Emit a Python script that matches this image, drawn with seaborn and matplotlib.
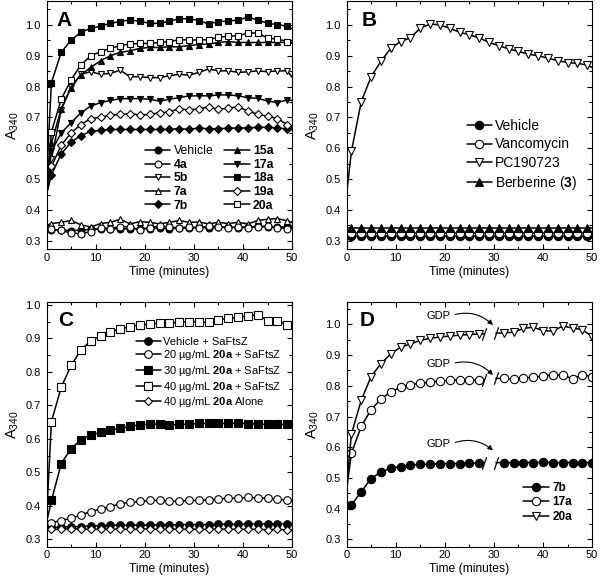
import seaborn as sns
import pandas as pd
import matplotlib
matplotlib.use("Agg")
import matplotlib.pyplot as plt
from matplotlib.ticker import MultipleLocator, FormatStrFormatter

# time axis: start, readings every 2 min, end
t_main = [0, 1, 3, 5, 7, 9, 11, 13, 15, 17, 19, 21, 23, 25, 27, 29, 31, 33, 35, 37, 39, 41, 43, 45, 47, 49, 50]

# panel A
a_vehicle = [0.335, 0.336, 0.335, 0.333, 0.335, 0.337, 0.339, 0.338, 0.340, 0.338, 0.340, 0.340, 0.342, 0.340,
             0.341, 0.342, 0.344, 0.342, 0.345, 0.344, 0.343, 0.345, 0.347, 0.345, 0.345, 0.345, 0.344]
a_4a = [0.340, 0.338, 0.334, 0.325, 0.323, 0.330, 0.342, 0.340, 0.346, 0.345, 0.336, 0.343, 0.348, 0.345,
        0.342, 0.346, 0.341, 0.348, 0.346, 0.343, 0.345, 0.343, 0.346, 0.348, 0.343, 0.340, 0.340]
a_5b = [0.46, 0.565, 0.725, 0.800, 0.840, 0.848, 0.840, 0.843, 0.853, 0.832, 0.832, 0.829, 0.829, 0.835,
        0.840, 0.837, 0.846, 0.857, 0.851, 0.851, 0.846, 0.848, 0.851, 0.848, 0.851, 0.851, 0.830]
a_7a = [0.350, 0.356, 0.360, 0.366, 0.352, 0.345, 0.356, 0.360, 0.370, 0.355, 0.362, 0.360, 0.355, 0.360,
        0.366, 0.360, 0.361, 0.355, 0.360, 0.356, 0.360, 0.355, 0.366, 0.370, 0.372, 0.365, 0.360]
a_7b = [0.45, 0.514, 0.582, 0.620, 0.641, 0.655, 0.658, 0.661, 0.661, 0.661, 0.661, 0.661, 0.661, 0.661,
        0.664, 0.661, 0.666, 0.663, 0.664, 0.665, 0.666, 0.666, 0.668, 0.668, 0.666, 0.663, 0.661]
a_15a = [0.47, 0.617, 0.728, 0.797, 0.838, 0.862, 0.884, 0.900, 0.911, 0.916, 0.924, 0.927, 0.927, 0.929,
         0.929, 0.933, 0.936, 0.938, 0.943, 0.946, 0.943, 0.943, 0.943, 0.943, 0.943, 0.943, 0.941]
a_17a = [0.46, 0.590, 0.650, 0.683, 0.715, 0.737, 0.748, 0.755, 0.761, 0.761, 0.761, 0.759, 0.753, 0.759,
         0.764, 0.770, 0.770, 0.770, 0.773, 0.773, 0.770, 0.764, 0.762, 0.753, 0.748, 0.757, 0.755]
a_18a = [0.50, 0.813, 0.911, 0.951, 0.976, 0.989, 0.996, 1.005, 1.011, 1.016, 1.012, 1.005, 1.005, 1.012,
         1.020, 1.020, 1.014, 1.003, 1.011, 1.012, 1.016, 1.025, 1.016, 1.005, 1.001, 0.996, 0.987]
a_19a = [0.45, 0.541, 0.610, 0.650, 0.677, 0.696, 0.701, 0.707, 0.710, 0.712, 0.708, 0.710, 0.715, 0.718,
         0.728, 0.724, 0.728, 0.734, 0.726, 0.731, 0.734, 0.721, 0.710, 0.704, 0.696, 0.677, 0.666]
a_20a = [0.48, 0.653, 0.759, 0.822, 0.870, 0.900, 0.913, 0.924, 0.933, 0.938, 0.940, 0.940, 0.943, 0.946,
         0.952, 0.951, 0.951, 0.952, 0.960, 0.963, 0.965, 0.973, 0.974, 0.957, 0.954, 0.946, 0.943]

# panel B
b_vehicle = [0.316, 0.316, 0.316, 0.316, 0.316, 0.316, 0.316, 0.316, 0.316, 0.316, 0.316, 0.316, 0.316, 0.316,
             0.316, 0.316, 0.316, 0.316, 0.316, 0.316, 0.316, 0.316, 0.316, 0.316, 0.316, 0.316, 0.316]
b_vanco = [0.325, 0.325, 0.325, 0.325, 0.325, 0.325, 0.325, 0.325, 0.325, 0.325, 0.325, 0.325, 0.325, 0.325,
           0.325, 0.325, 0.325, 0.325, 0.325, 0.325, 0.325, 0.325, 0.325, 0.325, 0.325, 0.325, 0.325]
b_pc = [0.45, 0.590, 0.751, 0.832, 0.882, 0.924, 0.946, 0.958, 0.989, 1.003, 1.000, 0.989, 0.976, 0.968,
        0.958, 0.943, 0.933, 0.922, 0.914, 0.905, 0.900, 0.892, 0.884, 0.878, 0.875, 0.870, 0.862]
b_berb = [0.341, 0.341, 0.341, 0.341, 0.341, 0.341, 0.341, 0.341, 0.341, 0.341, 0.341, 0.341, 0.341, 0.341,
          0.341, 0.341, 0.341, 0.341, 0.341, 0.341, 0.341, 0.341, 0.341, 0.341, 0.341, 0.341, 0.341]

# panel C
c_vehicle = [0.335, 0.336, 0.336, 0.338, 0.338, 0.340, 0.340, 0.342, 0.342, 0.342, 0.342, 0.343, 0.343, 0.343,
             0.344, 0.344, 0.344, 0.344, 0.345, 0.345, 0.345, 0.345, 0.346, 0.346, 0.346, 0.346, 0.345]
c_20 = [0.345, 0.350, 0.356, 0.363, 0.373, 0.383, 0.390, 0.398, 0.406, 0.410, 0.413, 0.416, 0.416, 0.413,
        0.414, 0.416, 0.416, 0.418, 0.420, 0.423, 0.423, 0.425, 0.423, 0.423, 0.420, 0.416, 0.413]
c_30 = [0.35, 0.416, 0.526, 0.571, 0.597, 0.612, 0.619, 0.626, 0.631, 0.637, 0.642, 0.644, 0.644, 0.641,
        0.643, 0.644, 0.646, 0.646, 0.646, 0.646, 0.647, 0.645, 0.644, 0.643, 0.643, 0.644, 0.644]
c_40 = [0.36, 0.651, 0.754, 0.819, 0.865, 0.892, 0.907, 0.920, 0.928, 0.935, 0.940, 0.942, 0.945, 0.945,
        0.948, 0.950, 0.948, 0.948, 0.955, 0.960, 0.962, 0.967, 0.970, 0.953, 0.953, 0.940, 0.935]
c_alone = [0.330, 0.330, 0.330, 0.332, 0.330, 0.330, 0.331, 0.330, 0.331, 0.330, 0.331, 0.331, 0.330, 0.331,
           0.330, 0.331, 0.330, 0.330, 0.331, 0.330, 0.330, 0.330, 0.330, 0.329, 0.330, 0.328, 0.328]

# panel D: before and after GDP addition
d_t1 = [0, 1, 3, 5, 7, 9, 11, 13, 15, 17, 19, 21, 23, 25, 27]
d_t2 = [32, 34, 36, 38, 40, 42, 44, 46, 48, 50]
d_7b_1 = [0.40, 0.412, 0.455, 0.498, 0.519, 0.532, 0.537, 0.541, 0.544, 0.545, 0.546, 0.547, 0.547, 0.548, 0.548]
d_7b_2 = [0.550, 0.550, 0.550, 0.550, 0.551, 0.550, 0.550, 0.550, 0.550, 0.550]
d_17a_1 = [0.46, 0.580, 0.668, 0.722, 0.757, 0.780, 0.795, 0.803, 0.809, 0.811, 0.816, 0.818, 0.819, 0.819, 0.819]
d_17a_2 = [0.824, 0.822, 0.826, 0.828, 0.832, 0.836, 0.835, 0.823, 0.836, 0.830]
d_20a_1 = [0.47, 0.643, 0.753, 0.830, 0.872, 0.904, 0.926, 0.936, 0.948, 0.955, 0.959, 0.962, 0.965, 0.967, 0.969]
d_20a_2 = [0.972, 0.975, 0.987, 0.991, 0.980, 0.978, 0.995, 0.988, 0.983, 0.960]
BREAK_L, BREAK_R = 28.0, 30.4

sns.set_theme(style="ticks")
plt.rcParams['font.family'] = ['Liberation Sans', 'DejaVu Sans']
plt.rcParams.update({
    'mathtext.fontset': 'custom',
    'mathtext.rm': 'Liberation Sans',
    'mathtext.bf': 'Liberation Sans:bold',
    'mathtext.it': 'Liberation Sans:italic',
    'axes.linewidth': 0.8,
    'axes.edgecolor': 'black',
    'xtick.color': 'black',
    'ytick.color': 'black',
    'text.color': 'black',
    'axes.labelcolor': 'black',
})

fig = plt.figure(figsize=(6, 5.81), dpi=100)
axA = fig.add_axes([0.0775, 0.5706, 0.4095, 0.4269])
axB = fig.add_axes([0.5775, 0.5706, 0.4095, 0.4269])
axC = fig.add_axes([0.0775, 0.0590, 0.4095, 0.4205])
axD = fig.add_axes([0.5775, 0.0590, 0.4095, 0.4212])


def draw(ax, t, y, marker, filled, label, ms, every=None):
    if every is None:
        every = slice(1, len(t) - 1)
    sns.lineplot(x=t, y=y, ax=ax, color='black', lw=1.1, marker=marker, markersize=ms,
                 markerfacecolor='black' if filled else 'white', markeredgecolor='black',
                 markeredgewidth=0.8, markevery=every, label=label, sort=False, estimator=None)


# A
ms = 5
draw(axA, t_main, a_vehicle, 'o', True, 'Vehicle', ms)
draw(axA, t_main, a_7a, '^', False, '7a', ms)
draw(axA, t_main, a_4a, 'o', False, '4a', ms)
draw(axA, t_main, a_5b, 'v', False, '5b', ms)
draw(axA, t_main, a_7b, 'D', True, '7b', ms - 0.8)
draw(axA, t_main, a_15a, '^', True, '15a', ms)
draw(axA, t_main, a_17a, 'v', True, '17a', ms)
draw(axA, t_main, a_18a, 's', True, '18a', ms)
draw(axA, t_main, a_19a, 'D', False, '19a', ms - 0.8)
draw(axA, t_main, a_20a, 's', False, '20a', ms)
h, l = axA.get_legend_handles_labels()
order = ['Vehicle', '4a', '5b', '7a', '7b', '15a', '17a', '18a', '19a', '20a']
hd = dict(zip(l, h))
leg = axA.legend([hd[k] for k in order], order, loc='upper left', bbox_to_anchor=(0.40, 0.42), ncol=2,
                 frameon=False, fontsize=8.8, handlelength=2.1, handletextpad=0.25, columnspacing=0.9,
                 labelspacing=0.13, borderpad=0, borderaxespad=0)
for txt in leg.get_texts():
    if txt.get_text() != 'Vehicle':
        txt.set_fontweight('bold')

# B
ms = 6
draw(axB, t_main, b_vehicle, 'o', True, 'Vehicle', ms)
draw(axB, t_main, b_vanco, 'o', False, 'Vancomycin', ms)
draw(axB, t_main, b_pc, 'v', False, 'PC190723', ms)
draw(axB, t_main, b_berb, '^', True, r'Berberine ($\mathbf{3}$)', ms)
axB.legend(loc='upper left', bbox_to_anchor=(0.49, 0.525), frameon=False, fontsize=10, handlelength=1.8,
           handletextpad=0.2, labelspacing=0.3, borderpad=0, borderaxespad=0)

# C
ms = 5.5
draw(axC, t_main, c_vehicle, 'o', True, 'Vehicle + SaFtsZ', ms)
draw(axC, t_main, c_20, 'o', False, r'20 µg/mL $\mathbf{20a}$ + SaFtsZ', ms)
draw(axC, t_main, c_30, 's', True, r'30 µg/mL $\mathbf{20a}$ + SaFtsZ', ms)
draw(axC, t_main, c_40, 's', False, r'40 µg/mL $\mathbf{20a}$ + SaFtsZ', ms)
draw(axC, t_main, c_alone, 'D', False, r'40 µg/mL $\mathbf{20a}$ Alone', ms - 1)
axC.legend(loc='upper left', bbox_to_anchor=(0.365, 0.86), frameon=False, fontsize=8, handlelength=2.2,
           handletextpad=0.25, labelspacing=0.15, borderpad=0, borderaxespad=0)

# D
ms = 6
SLASH = [(-0.35, -1), (0.35, 1)]
for t1, y1, t2, y2, mk, filled, lab in [
        (d_t1, d_7b_1, d_t2, d_7b_2, 'o', True, '7b'),
        (d_t1, d_17a_1, d_t2, d_17a_2, 'o', False, '17a'),
        (d_t1, d_20a_1, d_t2, d_20a_2, 'v', False, '20a')]:
    seg1_t = t1 + [BREAK_L]
    seg1_y = y1 + [y1[-1]]
    seg2_t = [BREAK_R] + t2
    seg2_y = [y2[0]] + y2
    draw(axD, seg1_t, seg1_y, mk, filled, lab, ms)
    draw(axD, seg2_t, seg2_y, mk, filled, '_' + lab, ms, every=slice(1, None))
    axD.plot([BREAK_L, BREAK_R], [y1[-1], y2[0]], ls='none', marker=SLASH, ms=9,
             mfc='none', mec='black', mew=0.9)
axD.legend(loc='upper left', bbox_to_anchor=(0.72, 0.265), frameon=False, handlelength=2.2,
           handletextpad=0.25, labelspacing=0.22, borderpad=0, borderaxespad=0, prop={'weight': 'bold', 'size': 8.5})

gdp_text_y = [1.028, 0.871, 0.610]
gdp_tip_y = [0.998, 0.835, 0.590]
for ty, tip in zip(gdp_text_y, gdp_tip_y):
    axD.annotate('GDP', xy=(29.8, tip), xytext=(16.3, ty), fontsize=8, ha='left', va='center',
                 arrowprops=dict(arrowstyle='-|>', connectionstyle='arc3,rad=-0.3', color='black', lw=0.8,
                                 shrinkA=1, shrinkB=0, mutation_scale=7, relpos=(1, 0.5)))

# common styling
for ax, letter, lx, ylim in [(axA, 'A', 0.04, (0.272, 1.076)), (axB, 'B', 0.062, (0.272, 1.076)),
                             (axC, 'C', 0.048, (0.278, 1.007)), (axD, 'D', 0.055, (0.276, 1.073))]:
    ax.set_xlim(0, 50)
    ax.set_ylim(*ylim)
    ax.xaxis.set_major_locator(MultipleLocator(10))
    ax.xaxis.set_minor_locator(MultipleLocator(5))
    ax.yaxis.set_major_locator(MultipleLocator(0.1))
    ax.yaxis.set_minor_locator(MultipleLocator(0.05))
    ax.yaxis.set_major_formatter(FormatStrFormatter('%.1f'))
    ax.tick_params(which='both', direction='in', top=True, right=True, labelsize=8, width=0.8)
    ax.tick_params(which='major', length=3.5)
    ax.tick_params(which='minor', length=2)
    ax.tick_params(axis='x', pad=2.5)
    ax.tick_params(axis='y', pad=4)
    ax.set_xlabel('Time (minutes)', fontsize=8.7, labelpad=2)
    ax.set_ylabel('A$_{340}$', fontsize=10.5, labelpad=3)
    for sp in ax.spines.values():
        sp.set_visible(True)
        sp.set_linewidth(0.8)
    ax.text(lx, 0.925, letter, transform=ax.transAxes, fontsize=15, fontweight='bold', ha='left', va='center')

fig.savefig('out.png', dpi=100)
